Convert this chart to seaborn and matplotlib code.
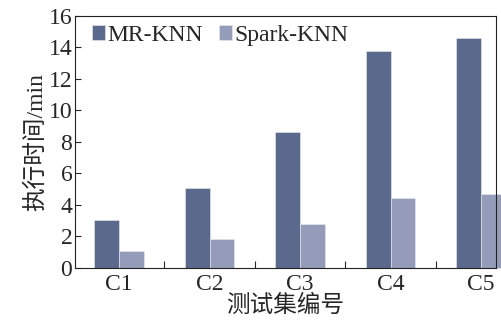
import matplotlib
matplotlib.use('Agg')
import matplotlib.pyplot as plt
import pandas as pd
import seaborn as sns
from matplotlib.ticker import FixedLocator

# data
datasets = ['C1', 'C2', 'C3', 'C4', 'C5']
mr_knn = [3.05, 5.1, 8.6, 13.75, 14.6]
spark_knn = [1.05, 1.82, 2.78, 4.45, 4.72]

df = pd.DataFrame({
    'set': datasets * 2,
    'time': mr_knn + spark_knn,
    'method': ['MR-KNN'] * 5 + ['Spark-KNN'] * 5,
})

sns.set_style('ticks')
plt.rcParams['font.family'] = ['Liberation Serif', 'Noto Sans CJK SC']

fig = plt.figure(figsize=(5.01, 3.24), dpi=100)
ax = fig.add_axes([0.150, 0.173, 0.840, 0.778])

sns.barplot(data=df, x='set', y='time', hue='method',
            palette=['#5b6a8c', '#959cb9'], width=0.55, gap=0,
            saturation=1, edgecolor='#e8eaf0', linewidth=0.4, ax=ax)
for p in ax.patches:
    p.set_clip_on(False)

ax.set_xlim(-0.486, 4.166)
ax.set_ylim(0, 16)
ax.set_yticks(range(0, 17, 2))
ax.tick_params(axis='y', direction='in', length=4.5, width=0.8, labelsize=17, pad=2)
ax.tick_params(axis='x', which='major', length=0, labelsize=17, pad=4)
ax.xaxis.set_minor_locator(FixedLocator([0.5, 1.5, 2.5, 3.5]))
ax.tick_params(axis='x', which='minor', direction='in', length=5, width=0.8)
for s in ax.spines.values():
    s.set_linewidth(0.8)
    s.set_color('#222222')

ax.set_xlabel('测试集编号', fontsize=17, labelpad=0)
ax.set_ylabel('执行时间/min', fontsize=17, labelpad=1)

leg = ax.legend(loc='upper left', ncol=2, frameon=False, fontsize=17,
                handlelength=0.55, handleheight=0.55, handletextpad=0.1,
                columnspacing=0.7, borderaxespad=0.3, bbox_to_anchor=(0.0, 1.03))

fig.savefig('out.png', dpi=100)
